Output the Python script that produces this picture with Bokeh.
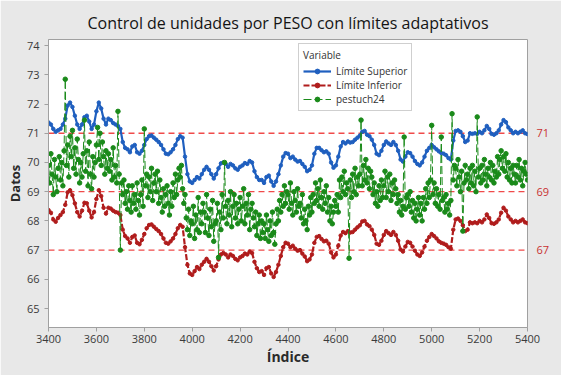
from bokeh.plotting import figure
from bokeh.models import Range1d, LinearAxis, FixedTicker, Span, Legend, LegendItem
from bokeh.embed import file_html
from bokeh.resources import INLINE

# ---------------- data ----------------
idx_start = 3400
lim_step = 10
data_step = 5

upper = [
    71.37, 71.3, 71.15, 71.05, 71.1, 71.15, 71.3, 71.5, 71.95, 72.05,
    71.9, 71.6, 71.3, 71.15, 71.3, 71.55, 71.6, 71.4, 71.15, 71.3,
    71.75, 72.05, 71.85, 71.5, 71.3, 71.5, 71.45, 71.35, 71.3, 71.25,
    71.15, 70.7, 70.5, 70.45, 70.35, 70.55, 70.6, 70.35, 70.3, 70.4,
    70.6, 70.8, 70.9, 70.92, 70.85, 70.78, 70.7, 70.6, 70.45, 70.3,
    70.28, 70.35, 70.45, 70.6, 70.8, 70.9, 70.85, 70.2, 69.6, 69.35,
    69.3, 69.4, 69.5, 69.45, 69.6, 69.75, 69.85, 69.75, 69.6, 69.45,
    69.6, 69.8, 69.97, 70.0, 69.95, 69.85, 69.95, 69.9, 69.8, 69.75,
    69.85, 69.9, 69.98, 69.95, 70.05, 70.0, 69.7, 69.5, 69.4, 69.4,
    69.3, 69.5, 69.55, 69.35, 69.2, 69.35, 69.6, 69.9, 70.2, 70.32,
    70.3, 70.15, 70.2, 70.1, 70.03, 70.05, 69.95, 69.85, 69.7, 69.75,
    69.9, 70.3, 70.5, 70.5, 70.42, 70.35, 70.38, 70.3, 70.0, 69.82,
    69.9, 70.2, 70.55, 70.7, 70.65, 70.72, 70.68, 70.7, 70.78, 70.85,
    70.92, 71.05, 71.08, 70.95, 70.9, 70.78, 70.6, 70.3, 70.25, 70.4,
    70.6, 70.72, 70.65, 70.6, 70.7, 70.6, 70.4, 70.1, 70.03, 70.2,
    70.35, 70.32, 70.2, 70.05, 69.95, 69.9, 70.0, 70.2, 70.4, 70.5,
    70.6, 70.52, 70.45, 70.38, 70.32, 70.3, 70.25, 70.15, 70.1, 70.75,
    71.08, 71.1, 71.05, 70.9, 70.7, 70.75, 71.0, 70.98, 71.0, 70.98,
    71.05, 71.0, 71.1, 71.25, 71.15, 70.98, 70.95, 71.0, 71.1, 71.3,
    71.45, 71.38, 71.2, 71.1, 71.0, 71.05, 71.0, 71.05, 71.1, 71.0,
    70.97,
]

lower = [
    68.37, 68.28, 68.05, 67.97, 68.1, 68.2, 68.3, 68.55, 68.98, 69.05,
    68.88, 68.6, 68.3, 68.15, 68.35, 68.62, 68.6, 68.35, 68.12, 68.3,
    68.75, 69.05, 68.85, 68.45, 68.25, 68.45, 68.42, 68.35, 68.3, 68.28,
    68.2, 67.7, 67.48, 67.4, 67.25, 67.45, 67.5, 67.25, 67.2, 67.35,
    67.55, 67.75, 67.86, 67.88, 67.8, 67.72, 67.65, 67.55, 67.4, 67.25,
    67.22, 67.3, 67.4, 67.55, 67.75, 67.86, 67.8, 67.1, 66.5, 66.2,
    66.15, 66.28, 66.42, 66.35, 66.5, 66.6, 66.7, 66.6, 66.45, 66.3,
    66.45, 66.68, 66.85, 66.9, 66.85, 66.75, 66.85, 66.8, 66.7, 66.65,
    66.75, 66.8, 66.88, 66.85, 66.95, 66.9, 66.6, 66.38, 66.25, 66.28,
    66.15, 66.38, 66.42, 66.2, 66.08, 66.25, 66.5, 66.8, 67.1, 67.25,
    67.22, 67.1, 67.15, 67.05, 66.98, 67.0, 66.88, 66.78, 66.62, 66.68,
    66.85, 67.25, 67.45, 67.48, 67.38, 67.3, 67.32, 67.22, 66.92, 66.75,
    66.85, 67.15, 67.5, 67.62, 67.58, 67.65, 67.6, 67.62, 67.7, 67.78,
    67.85, 67.98, 68.0, 67.88, 67.82, 67.7, 67.52, 67.22, 67.18, 67.32,
    67.52, 67.65, 67.58, 67.52, 67.62, 67.52, 67.32, 67.02, 66.95, 67.12,
    67.28, 67.25, 67.12, 66.98, 66.85, 66.8, 66.92, 67.12, 67.32, 67.45,
    67.55, 67.48, 67.4, 67.3, 67.25, 67.22, 67.18, 67.1, 67.05, 67.7,
    68.05, 68.08, 68.0, 67.85, 67.65, 67.7, 67.95, 67.92, 67.95, 67.92,
    68.0, 67.95, 68.05, 68.22, 68.1, 67.92, 67.9, 67.95, 68.05, 68.28,
    68.45, 68.35, 68.15, 68.05, 67.95, 68.0, 67.95, 68.0, 68.05, 67.95,
    67.92,
]

pestuch24 = [
    69.9, 69.3, 70.3, 69.6, 68.9, 70.1, 69.5, 69.0, 69.8, 70.2,
    69.4, 70.0, 69.2, 70.4, 72.85, 69.9, 70.6, 69.5, 70.9, 70.2,
    71.1, 69.8, 70.5, 69.6, 70.8, 70.1, 69.3, 70.0, 69.5, 70.3,
    71.45, 69.7, 70.4, 69.2, 70.7, 69.6, 69.1, 70.2, 69.5, 70.0,
    70.6, 71.2, 70.1, 71.0, 69.9, 70.7, 70.2, 69.6, 70.4, 69.8,
    70.3, 69.7, 70.1, 69.4, 70.5, 69.5, 69.9, 69.3, 71.75, 69.6,
    67.0, 69.3, 68.9, 69.4, 68.6, 69.0, 68.4, 69.2, 68.7, 68.3,
    69.2, 68.6, 68.9, 68.4, 69.3, 68.7, 68.2, 68.9, 69.4, 68.5,
    71.15, 69.2, 69.6, 68.8, 69.5, 69.0, 69.8, 68.7, 69.3, 69.6,
    69.0, 69.7, 68.6, 69.4, 68.8, 68.3, 69.1, 68.5, 68.9, 69.2,
    68.6, 68.2, 69.0, 68.5, 69.3, 68.8, 69.6, 68.9, 69.4, 69.8,
    69.5, 69.9, 69.1, 68.6, 68.9, 68.1, 67.7, 68.4, 67.5, 68.0,
    67.9, 68.5, 67.4, 68.2, 67.7, 68.8, 67.6, 68.3, 67.9, 68.6,
    68.3, 67.6, 68.9, 68.1, 67.5, 68.4, 67.8, 68.7, 67.3, 67.9,
    68.0, 68.6, 66.75, 68.3, 67.7, 68.9, 68.1, 70.0, 68.5, 67.9,
    68.7, 68.2, 69.0, 67.8, 68.5, 68.9, 68.1, 68.6, 67.9, 68.4,
    68.8, 68.0, 68.5, 69.1, 67.9, 68.6, 68.2, 68.9, 67.7, 68.4,
    68.6, 68.1, 67.8, 68.3, 67.5, 67.9, 68.2, 67.4, 68.0, 67.6,
    67.9, 67.4, 68.2, 67.7, 67.3, 68.0, 67.5, 68.3, 67.6, 67.2,
    67.9, 68.4, 68.0, 68.7, 68.3, 68.9, 68.5, 69.2, 68.6, 69.0,
    68.9, 68.4, 69.3, 68.6, 68.2, 69.0, 68.7, 68.3, 69.1, 68.5,
    68.6, 68.1, 68.9, 67.9, 68.4, 68.0, 67.7, 68.5, 68.2, 68.8,
    68.3, 68.9, 68.6, 69.3, 68.7, 69.1, 68.5, 69.4, 68.8, 68.4,
    69.0, 68.6, 69.2, 68.3, 68.8, 68.0, 68.5, 67.9, 68.3, 68.7,
    68.5, 68.9, 68.3, 69.4, 68.8, 69.5, 69.0, 69.7, 68.9, 69.3,
    69.1, 66.72, 69.4, 68.8, 69.6, 69.0, 69.8, 68.9, 69.5, 69.2,
    69.6, 71.45, 69.2, 69.9, 69.4, 70.1, 69.3, 69.8, 69.1, 69.7,
    69.5, 68.9, 69.3, 68.6, 69.0, 68.5, 69.2, 68.7, 69.4, 68.8,
    69.2, 69.7, 68.8, 69.5, 69.0, 69.6, 68.7, 69.3, 68.9, 69.4,
    69.1, 68.6, 68.9, 68.3, 68.7, 68.2, 68.5, 70.87, 68.4, 68.8,
    68.9, 68.5, 69.0, 68.3, 68.7, 68.1, 68.6, 68.0, 68.4, 68.8,
    68.2, 68.6, 68.0, 68.8, 68.4, 69.1, 68.6, 69.3, 68.8, 69.4,
    71.27, 68.9, 69.3, 68.6, 69.1, 68.5, 68.9, 68.4, 70.87, 68.7,
    68.8, 68.3, 68.9, 68.4, 68.6, 68.2, 68.7, 71.67, 69.4, 69.9,
    69.8, 69.2, 70.1, 69.5, 69.0, 69.7, 67.65, 69.3, 69.9, 69.4,
    69.6, 69.1, 69.8, 69.3, 69.9, 69.2, 69.7, 69.0, 71.56, 69.5,
    69.8, 69.3, 69.9, 69.4, 70.1, 69.6, 69.2, 69.8, 69.5, 70.0,
    69.4, 69.9, 69.3, 69.7, 69.5, 70.2, 69.6, 70.1, 70.4, 69.8,
    70.2, 69.7, 70.3, 69.5, 70.0, 69.4, 69.8, 69.3, 69.9, 69.6,
    69.3, 69.9, 69.5, 70.1, 69.4, 69.8, 69.2, 69.7, 70.0, 69.6,
    69.4,
]

ref_levels = [71, 69, 67]
x_ticks = [3400, 3600, 3800, 4000, 4200, 4400, 4600, 4800, 5000, 5200, 5400]
y_ticks = [65, 66, 67, 68, 69, 70, 71, 72, 73, 74]

idx_lim = [idx_start + i * lim_step for i in range(len(upper))]
idx_data = [idx_start + i * data_step for i in range(len(pestuch24))]

# ---------------- styles ----------------
FONT = "Open Sans"
BG = "#e8e8e8"
BLUE = "#1f5fbf"
RED = "#b01c1c"
GREEN = "#1a8a1a"
REF = "#f04a4a"

p = figure(
    frame_width=479, frame_height=288,
    min_border_left=48, min_border_right=34, min_border_top=39, min_border_bottom=48,
    x_range=Range1d(3400, 5400), y_range=Range1d(64.35, 74.21),
    output_backend="svg", toolbar_location=None,
    title="Control de unidades por PESO con límites adaptativos",
)
p.border_fill_color = BG
p.background_fill_color = "white"
p.outline_line_color = "#a0a0a0"
p.grid.visible = False

p.title.align = "center"
p.title.text_font = FONT
p.title.text_font_size = "16px"
p.title.text_font_style = "normal"
p.title.text_color = "#141414"
p.title.standoff = 11

for ax in (p.xaxis[0], p.yaxis[0]):
    ax.axis_line_color = "#a0a0a0"
    ax.major_tick_line_color = "#a0a0a0"
    ax.major_tick_in = 0
    ax.major_tick_out = 4
    ax.minor_tick_line_color = None
    ax.major_label_text_font = FONT
    ax.major_label_text_font_size = "11px"
    ax.major_label_text_color = "#3a3a3a"
    ax.axis_label_text_font = FONT
    ax.axis_label_text_font_style = "bold"
    ax.axis_label_text_color = "#2a2a2a"

p.xaxis[0].ticker = FixedTicker(ticks=x_ticks)
p.yaxis[0].ticker = FixedTicker(ticks=y_ticks)
p.xaxis[0].major_label_standoff = 3
p.xaxis[0].axis_label = "Índice"
p.xaxis[0].axis_label_text_font_size = "14px"
p.xaxis[0].axis_label_standoff = 1
p.yaxis[0].axis_label = "Datos"
p.yaxis[0].axis_label_text_font_size = "13px"
p.yaxis[0].axis_label_standoff = 0

# right axis labelling the reference lines
rax = LinearAxis(ticker=FixedTicker(ticks=ref_levels))
rax.axis_line_color = None
rax.major_tick_line_color = None
rax.minor_tick_line_color = None
rax.major_label_text_font = FONT
rax.major_label_text_font_size = "11px"
rax.major_label_text_color = "#c83232"
rax.major_label_standoff = 3
p.add_layout(rax, "right")

for lv in ref_levels:
    p.add_layout(Span(location=lv, dimension="width", line_color=REF,
                      line_dash="6 4", line_width=1.3, level="underlay"))

# series
r_up_l = p.line(idx_lim, upper, line_color=BLUE, line_width=2.2)
r_up_m = p.scatter(idx_lim, upper, size=3.5, marker="circle",
                   fill_color=BLUE, line_color=BLUE)
r_lo_l = p.line(idx_lim, lower, line_color=RED, line_width=2.2, line_dash="6 2")
r_lo_m = p.scatter(idx_lim, lower, size=3.5, marker="circle",
                   fill_color=RED, line_color=RED)
r_pe_l = p.line(idx_data, pestuch24, line_color=GREEN, line_width=1, line_dash="8 3")
r_pe_m = p.scatter(idx_data, pestuch24, size=4.5, marker="circle",
                   fill_color=GREEN, line_color=GREEN)

legend = Legend(
    items=[
        LegendItem(label="Límite Superior", renderers=[r_up_l, r_up_m]),
        LegendItem(label="Límite Inferior", renderers=[r_lo_l, r_lo_m]),
        LegendItem(label="pestuch24", renderers=[r_pe_l, r_pe_m]),
    ],
    title="Variable",
    location=(250, 216),
)
legend.title_text_font = FONT
legend.title_text_font_size = "10px"
legend.title_text_font_style = "normal"
legend.title_text_color = "#333333"
legend.title_standoff = 2
legend.label_text_font = FONT
legend.label_text_font_size = "10px"
legend.label_text_color = "#333333"
legend.label_height = 12
legend.glyph_height = 12
legend.glyph_width = 28
legend.spacing = 0
legend.padding = 4
legend.margin = 0
legend.border_line_color = "#a0a0a0"
legend.background_fill_color = "white"
legend.background_fill_alpha = 1.0
p.add_layout(legend)

open("out.html", "w").write(file_html(p, INLINE))
